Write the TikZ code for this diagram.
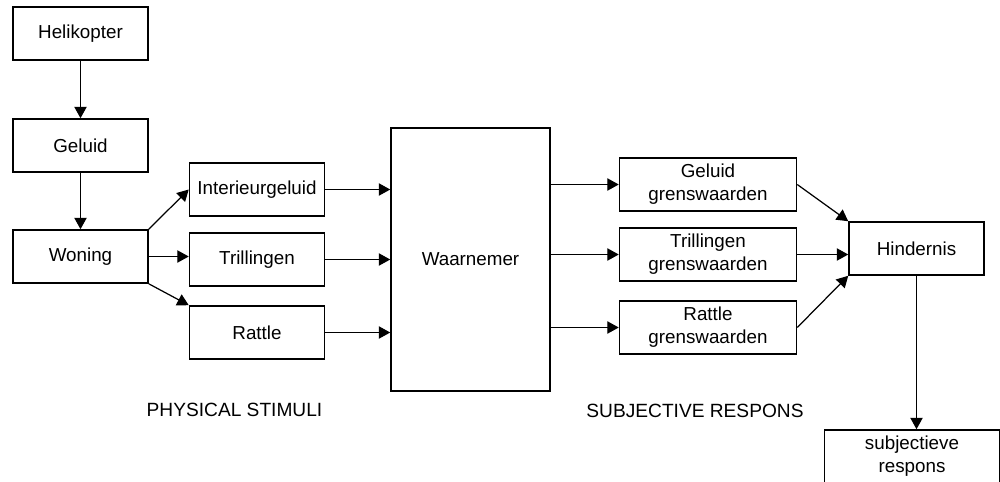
\documentclass[tikz,border=0pt]{standalone}
\usepackage{fontspec}
\setmainfont{Liberation Sans}
\usetikzlibrary{arrows.meta}

\tikzset{
  box/.style={draw, line width=0.9pt, minimum width=2.7cm, minimum height=1.06cm,
    align=center, inner sep=1pt, font=\fontsize{10.7}{13}\selectfont},
  pijl/.style={line width=0.7pt, -{Triangle[length=6.5pt,width=7pt]}},
  kop/.style={font=\fontsize{10.9}{13}\selectfont}
}

\begin{document}
\begin{tikzpicture}[x=0.02cm,y=-0.02cm]
			\useasboundingbox (0,0) rectangle (1000,481);
			% linker kolom
			\node[box] (heli) at (80.5,33.5) {Helikopter};
			\node[box] (geluid) at (80.5,145.5) {Geluid};
			\node[box] (woning) at (80.5,256.5) {Woning};
			% fysieke stimuli
			\node[box] (interieur) at (257,189.5) {Interieurgeluid};
			\node[box] (tril) at (257,259.5) {Trillingen};
			\node[box] (rattle) at (257,332.5) {Rattle};
			\node[box, minimum width=3.18cm, minimum height=5.26cm] (waar) at (470.5,259.5) {Waarnemer};
			% grenswaarden
			\node[box, minimum width=3.54cm] (geluidgw) at (708,184.5) {Geluid\\grenswaarden};
			\node[box, minimum width=3.54cm] (trilgw) at (708,254.5) {Trillingen\\grenswaarden};
			\node[box, minimum width=3.54cm] (rattlegw) at (708,327.5) {Rattle\\grenswaarden};
			\node[box] (hinder) at (916.5,248.5) {Hindernis};
			\node[box, minimum width=3.5cm] (subj) at (912,456.5) {subjectieve\\respons};
			% opschriften
			\node[kop] (stimuli) at (234.5,410) {PHYSICAL STIMULI};
			\node[kop] (respons) at (695,411) {SUBJECTIVE RESPONS};
			% pijlen
			\draw[pijl] (heli) -- (geluid);
			\draw[pijl] (geluid) -- (woning);
			\draw[pijl] (woning.north east) -- (interieur.west);
			\draw[pijl] (woning.east) -- (woning.east -| tril.west);
			\draw[pijl] (woning.south east) -- (rattle.north west);
			\draw[pijl] (interieur.east) -- (interieur.east -| waar.west);
			\draw[pijl] (tril.east) -- (tril.east -| waar.west);
			\draw[pijl] (rattle.east) -- (rattle.east -| waar.west);
			\draw[pijl] (geluidgw.west -| waar.east) -- (geluidgw.west);
			\draw[pijl] (trilgw.west -| waar.east) -- (trilgw.west);
			\draw[pijl] (rattlegw.west -| waar.east) -- (rattlegw.west);
			\draw[pijl] (geluidgw.east) -- (hinder.north west);
			\draw[pijl] (trilgw.east) -- (trilgw.east -| hinder.west);
			\draw[pijl] (rattlegw.east) -- (hinder.south west);
			\draw[pijl] (hinder.south) -- (hinder.south |- subj.north);
		\end{tikzpicture}
\end{document}
